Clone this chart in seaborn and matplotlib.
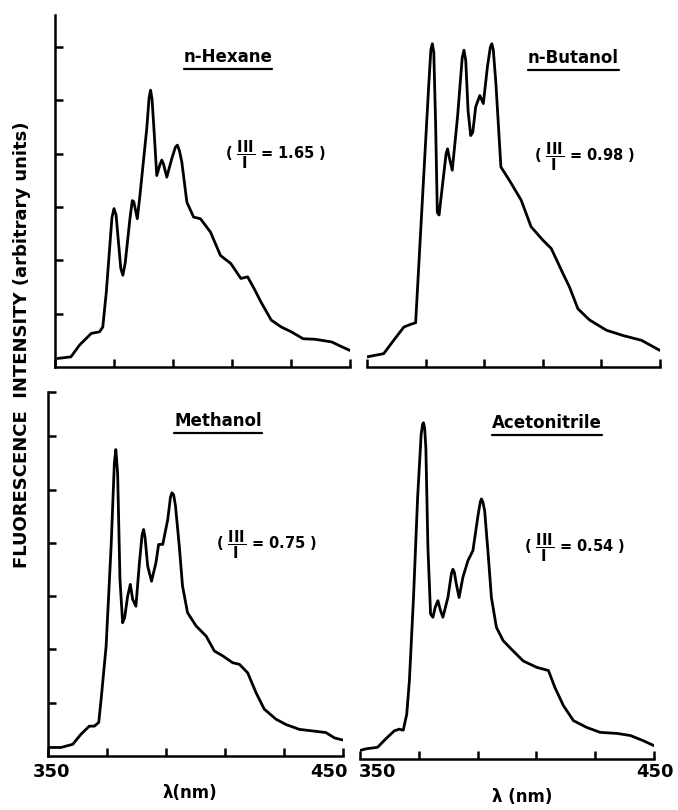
import numpy as np
import pandas as pd
import seaborn as sns
import matplotlib
matplotlib.use("Agg")
import matplotlib.pyplot as plt
from matplotlib.lines import Line2D

sns.set_style("ticks")
plt.rcParams['font.family'] = ['DejaVu Sans']
plt.rcParams['mathtext.fontset'] = 'dejavusans'
plt.rcParams['mathtext.default'] = 'bf'
plt.rcParams['text.color'] = 'black'
plt.rcParams['axes.edgecolor'] = 'black'
plt.rcParams['xtick.color'] = 'black'
plt.rcParams['ytick.color'] = 'black'

# ---------------- data ----------------
solvents = ["n-Hexane", "n-Butanol", "Methanol", "Acetonitrile"]
ratios = ["1.65", "0.98", "0.75", "0.54"]

hex_x = [350.9, 355.4, 358.3, 362.3, 365.1, 366.2, 367.4, 369.3, 370.0, 370.7, 372.3, 373.0,
         373.8, 375.4, 376.2, 376.7, 377.9, 378.8, 381.1, 381.9, 382.4, 382.9, 383.5, 384.5,
         385.6, 386.2, 386.8, 387.9, 389.6, 390.8, 391.5, 392.2, 393.0, 394.7, 397.0,
         399.3, 402.7, 406.1, 409.6, 413.0, 415.3, 417.5, 419.8, 423.3, 426.7, 430.1, 434.1,
         438.1, 443.8, 447.2, 450.0]
hex_y = [0.16, 0.19, 0.41, 0.63, 0.66, 0.75, 1.41, 2.80, 2.97, 2.85, 1.85, 1.72,
         1.95, 2.78, 3.12, 3.10, 2.78, 3.22, 4.47, 5.05, 5.19, 5.02, 4.50, 3.59,
         3.80, 3.88, 3.80, 3.56, 3.91, 4.12, 4.16, 4.05, 3.84, 3.09, 2.81,
         2.78, 2.53, 2.09, 1.94, 1.66, 1.69, 1.47, 1.22, 0.88, 0.75, 0.66, 0.53,
         0.52, 0.47, 0.38, 0.31]

but_x = [350.0, 355.7, 359.1, 362.6, 364.9, 366.6, 368.9, 371.1, 371.8, 372.3, 372.8, 373.4,
         374.0, 374.6, 375.7, 377.0, 377.5, 378.0, 379.1, 380.9, 382.5, 383.1, 383.7, 384.5,
         385.4, 386.1, 387.1, 388.5, 389.7, 391.1, 392.1, 392.6, 393.1, 394.0,
         395.7, 398.6, 402.6, 406.0, 410.0, 412.9, 416.9, 419.1, 422.0, 426.0, 431.7, 437.4,
         443.7, 450.0]
but_y = [0.19, 0.25, 0.50, 0.75, 0.80, 0.83, 3.13, 5.31, 5.95, 6.06, 5.90, 4.60,
         2.90, 2.85, 3.38, 4.00, 4.09, 3.95, 3.69, 4.69, 5.80, 5.94, 5.75, 4.80,
         4.34, 4.40, 4.88, 5.09, 4.94, 5.63, 6.00, 6.06, 5.95, 5.31,
         3.75, 3.50, 3.13, 2.63, 2.38, 2.22, 1.75, 1.50, 1.09, 0.88, 0.69, 0.59,
         0.50, 0.31]

met_x = [350.5, 354.4, 358.4, 361.2, 364.0, 365.7, 367.2, 368.0, 369.7, 371.4, 372.5, 373.0,
         373.6, 374.4, 375.3, 376.0, 377.0, 377.9, 378.7, 379.8, 381.0, 381.9, 382.4, 382.9,
         383.8, 385.1, 386.6, 387.5, 388.9, 390.6, 391.5, 392.0, 392.6, 393.2, 394.5, 395.6,
         397.3, 400.2, 403.6, 406.4, 409.2, 412.6, 414.9, 417.7, 420.5, 423.3, 427.3, 430.7,
         435.2, 439.7, 444.2, 447.1, 449.9]
met_y = [0.16, 0.16, 0.22, 0.41, 0.56, 0.56, 0.63, 1.06, 2.06, 3.94, 5.50, 5.75,
         5.31, 3.31, 2.50, 2.60, 3.00, 3.22, 2.94, 2.81, 3.63, 4.15, 4.25, 4.10,
         3.56, 3.28, 3.63, 3.97, 3.97, 4.44, 4.85, 4.94, 4.90, 4.70, 3.94, 3.19,
         2.69, 2.44, 2.25, 1.97, 1.88, 1.75, 1.72, 1.56, 1.19, 0.88, 0.69, 0.59,
         0.50, 0.47, 0.44, 0.34, 0.30]

ace_x = [350.0, 352.0, 356.0, 358.8, 361.7, 363.4, 364.7, 365.9, 366.8, 368.2, 369.6, 370.8,
         371.3, 371.6, 372.0, 372.4, 373.1, 374.0, 374.8, 375.6, 376.5, 377.3, 378.2, 379.9,
         381.1, 381.6, 382.1, 382.7, 383.7, 385.0, 386.7, 388.4, 390.2, 390.9, 391.3, 391.8,
         392.4, 393.6, 394.7, 396.4, 398.7, 401.5, 405.5, 410.1, 414.1, 416.3, 419.2, 422.6,
         427.2, 431.7, 437.4, 442.0, 446.5, 450.0]
ace_y = [0.16, 0.19, 0.22, 0.38, 0.53, 0.56, 0.54, 0.84, 1.47, 3.03, 4.91, 6.09,
         6.28, 6.31, 6.20, 5.84, 3.97, 2.72, 2.66, 2.85, 2.97, 2.80, 2.66, 3.03,
         3.48, 3.56, 3.50, 3.30, 3.03, 3.41, 3.72, 3.91, 4.59, 4.82, 4.88, 4.82,
         4.66, 3.84, 3.03, 2.47, 2.22, 2.06, 1.84, 1.72, 1.66, 1.34, 1.00, 0.72,
         0.59, 0.50, 0.48, 0.44, 0.34, 0.25]

x_ticks = [350, 370, 390, 410, 430, 450]
y_ticks = [1, 2, 3, 4, 5, 6]
x_tick_labels = ["350", "450"]

series = [(hex_x, hex_y), (but_x, but_y), (met_x, met_y), (ace_x, ace_y)]

# ---------------- layout ----------------
W, H = 678, 810
fig = plt.figure(figsize=(W / 100, H / 100), dpi=100)

def fx(px):
    return px / W

def fy(py):
    return 1 - py / H

# [left_px, bottom_px, width_px, height_px, ytop]
boxes = [
    (55, 367, 295, 352, 6.6),
    (367, 367, 293, 352, 6.6),
    (48, 756, 295, 364, 6.83),
    (360, 759, 294, 364, 6.83),
]

title_pos = [(228, 57), (573, 58), (218, 421), (547, 423)]
ratio_pos = [(275, 155), (584, 157), (266, 545), (574, 548)]

LW_AX = 1.8
axes = []
for i, ((xs, ys), (l, b, w, h, ytop)) in enumerate(zip(series, boxes)):
    ax = fig.add_axes([fx(l), fy(b), w / W, h / H])
    df = pd.DataFrame({"wl": xs, "I": ys})
    sns.lineplot(data=df, x="wl", y="I", ax=ax, color="black", linewidth=2.0,
                 estimator=None, sort=False)
    for ln in ax.get_lines():
        ln.set_solid_joinstyle("round")
        ln.set_solid_capstyle("round")
    ax.set_xlim(350, 450)
    ax.set_ylim(0, ytop)
    ax.set_xlabel("")
    ax.set_ylabel("")
    for s in ["top", "right"]:
        ax.spines[s].set_visible(False)
    ax.spines["bottom"].set_linewidth(LW_AX)
    ax.set_xticks(x_ticks)
    ax.set_xticklabels([])
    ax.tick_params(axis="x", direction="in", length=6, width=LW_AX, color="black")
    if i in (0, 2):
        ax.spines["left"].set_linewidth(LW_AX)
        yt = list(y_ticks) + ([ytop] if i == 2 else [])
        ax.set_yticks(yt)
        ax.set_yticklabels([])
        ax.tick_params(axis="y", direction="in", length=6, width=LW_AX, color="black")
    else:
        ax.spines["left"].set_visible(False)
        ax.set_yticks([])
    ax.patch.set_alpha(0)
    axes.append(ax)

# x tick labels on bottom panels
label_offsets = {2: [(4, -16), (-14, -16)], 3: [(18, -13), (1, -13)]}
for i, offs in label_offsets.items():
    for val_txt, val, (dx, dy) in zip(x_tick_labels, [x_ticks[0], x_ticks[-1]], offs):
        axes[i].annotate(val_txt, xy=(val, 0), xycoords=("data", "axes fraction"),
                         xytext=(dx, dy), textcoords="offset pixels",
                         ha="center", va="center", fontsize=13, fontweight="bold",
                         annotation_clip=False)

fig.text(fx(190), fy(793), "λ(nm)", ha="center", va="center", fontsize=12, fontweight="bold")
fig.text(fx(522), fy(797), "λ (nm)", ha="center", va="center", fontsize=12, fontweight="bold")

fig.text(fx(22), fy(345), "FLUORESCENCE  INTENSITY (arbitrary units)", rotation=90,
         ha="center", va="center", fontsize=13, fontweight="bold")

titles = []
for name, (px, py) in zip(solvents, title_pos):
    t = fig.text(fx(px), fy(py), name, ha="center", va="center", fontsize=12, fontweight="bold")
    titles.append(t)

for r, (px, py) in zip(ratios, ratio_pos):
    fig.text(fx(px), fy(py), r"( $\dfrac{\mathbf{III}}{\mathbf{I}}$ = " + r + " )",
             ha="center", va="center", fontsize=10.5, fontweight="bold")

fig.canvas.draw()
rend = fig.canvas.get_renderer()
for t in titles:
    bb = t.get_window_extent(renderer=rend)
    yline = (bb.y0 - 3) / H
    fig.add_artist(Line2D([bb.x0 / W, bb.x1 / W], [yline, yline], color="black", linewidth=1.6))

fig.savefig("out.png", dpi=100)
